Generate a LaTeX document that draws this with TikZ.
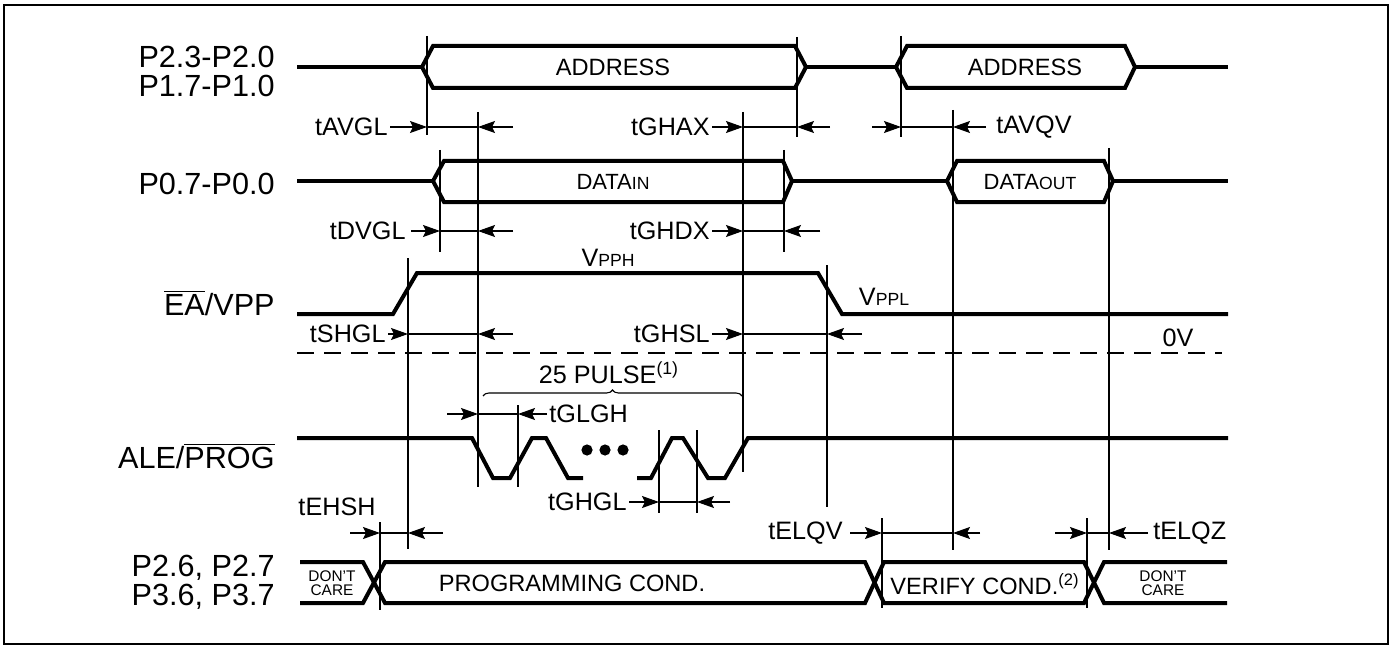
\documentclass[tikz,border=0pt]{standalone}
\usepackage{fontspec}
\setmainfont{Liberation Sans}
\usetikzlibrary{arrows.meta,decorations.pathreplacing}

% smaller letters inside a label (DATAin, VPPH ...)
\newcommand{\lo}[1]{{\fontsize{8.8}{9}\selectfont #1}}
% timing gap: y, left tail, left line, right line, right tail
\newcommand{\tgap}[5]{%
  \draw[dimarr] (#2,#1) -- (#3,#1);
  \draw[thinln] (#3,#1) -- (#4,#1);
  \draw[dimarr] (#5,#1) -- (#4,#1);}

\begin{document}
\begin{tikzpicture}[x=0.5pt,y=-0.5pt,
    sig/.style={line width=2pt,line join=miter},
    thinln/.style={line width=0.55pt},
    dimarr/.style={thinln,-{Stealth[length=8.5pt,width=6pt,inset=1.5pt]}},
    pin/.style={anchor=east,align=right,inner sep=0pt,
      font=\fontsize{15.3}{14.5}\selectfont},
    tlbl/.style={inner sep=0pt,font=\fontsize{12.6}{14}\selectfont},
    btxt/.style={inner sep=0pt,font=\fontsize{11.8}{14}\selectfont},
    dc/.style={align=center,inner sep=0pt,font=\fontsize{7.7}{7.2}\selectfont}]
  \useasboundingbox (0,0) rectangle (1398,647);
  % outer frame
  \draw[line width=1pt] (4,5) rectangle (1388,644);

  % pin names
  \node[pin] (pAddr) at (275,71) {P2.3-P2.0\\P1.7-P1.0};
  \node[pin] (pData) at (275,184) {P0.7-P0.0};
  \node[pin] (pVpp) at (275,303) {$\overline{\hbox{EA}}$/VPP};
  \node[pin] (pProg) at (275,456) {ALE/$\overline{\hbox{PROG}}$};
  \node[pin] (pCond) at (275,582) {P2.6, P2.7\\P3.6, P3.7};

  % address bus
  \draw[sig] (297,67) -- (422,67);
  \draw[sig] (422,67) -- (433,46) -- (795,46) -- (806,67) -- (795,88) -- (433,88) -- cycle;
  \draw[sig] (806,67) -- (896,67);
  \draw[sig] (896,67) -- (907,46) -- (1125,46) -- (1135,67) -- (1125,88) -- (907,88) -- cycle;
  \draw[sig] (1135,67) -- (1228,67);
  \node[btxt] (addrA) at (613,67) {ADDRESS};
  \node[btxt] (addrB) at (1025,67) {ADDRESS};

  % data bus
  \draw[sig] (297,181) -- (433,181);
  \draw[sig] (433,181) -- (444,161) -- (783,161) -- (792,181) -- (783,202) -- (444,202) -- cycle;
  \draw[sig] (792,181) -- (947,181);
  \draw[sig] (947,181) -- (957,161) -- (1104,161) -- (1113,181) -- (1104,202) -- (957,202) -- cycle;
  \draw[sig] (1113,181) -- (1228,181);
  \node[btxt] (dIn) at (613,182) {\fontsize{11}{12}\selectfont DATA\lo{IN}};
  \node[btxt] (dOut) at (1030,182) {\fontsize{11}{12}\selectfont DATA\lo{OUT}};

  % EA/VPP
  \draw[sig] (297,314) -- (393,314) -- (417,273) -- (818,273) -- (842,314) -- (1228,314);
  \node[tlbl] (vpph) at (608,258) {V\lo{PPH}};
  \node[tlbl] (vppl) at (884,297) {V\lo{PPL}};
  \node[tlbl] (zeroV) at (1178,338) {0V};
  \draw[thinln,dash pattern=on 8.5pt off 5pt] (297,353) -- (1222,353);

  % ALE/PROG pulses
  \draw[sig] (297,438) -- (472,438) -- (493,478) -- (510,478) -- (532,438) -- (546,438)
    -- (568,478) -- (583,478);
  \draw[sig] (637,478) -- (651,478) -- (672,438) -- (683,438) -- (708,478) -- (725,478)
    -- (748,438) -- (1228,438);
  \foreach \x in {587,605,623}
    \fill (\x,450) circle[radius=2.8pt];
  \draw[thinln,decorate,decoration={brace,amplitude=3pt}] (483,396) -- (742,396);
  \node[tlbl] (pulse) at (609,373) {25 PULSE\textsuperscript{(1)}};

  % port 2/3 condition bus
  \draw[sig] (300,562) -- (363,562) -- (385,603) -- (865,603) -- (884,562) -- (1084,562)
    -- (1104,603) -- (1227,603);
  \draw[sig] (300,603) -- (363,603) -- (385,562) -- (865,562) -- (884,603) -- (1084,603)
    -- (1104,562) -- (1227,562);
  \node[dc] (dcA) at (332,583) {DON'T\\CARE};
  \node[btxt] (prog) at (572,583) {PROGRAMMING COND.};
  \node[btxt] (verify) at (985,584) {VERIFY COND.\textsuperscript{(2)}};
  \node[dc] (dcB) at (1163,583) {DON'T\\CARE};

  % reference lines
  \foreach \x/\ya/\yb in {427/36/135, 797/37/137, 901/36/137, 478/112/487,
      743/112/472, 953/110/550, 440/150/252, 784/150/252, 1109/148/550,
      408/258/549, 827/265/507, 518/405/487, 659/430/513, 697/430/513,
      380/522/610, 882/518/608, 1087/518/608}
    \draw[thinln] (\x,\ya) -- (\x,\yb);

  % timing gaps
  \tgap{127}{390}{427}{478}{513}
  \node[tlbl,anchor=east] (tAVGL) at (388,127) {tAVGL};
  \tgap{127}{712}{743}{797}{830}
  \node[tlbl,anchor=east] (tGHAX) at (710,127) {tGHAX};
  \tgap{127}{872}{901}{953}{986}
  \node[tlbl,anchor=west] (tAVQV) at (996,127) {tAVQV};
  \tgap{231}{411}{440}{478}{513}
  \node[tlbl,anchor=east] (tDVGL) at (406,231) {tDVGL};
  \tgap{231}{712}{743}{784}{820}
  \node[tlbl,anchor=east] (tGHDX) at (710,231) {tGHDX};
  \tgap{334}{388}{408}{478}{513}
  \node[tlbl,anchor=east] (tSHGL) at (386,334) {tSHGL};
  \tgap{334}{712}{743}{827}{862}
  \node[tlbl,anchor=east] (tGHSL) at (710,334) {tGHSL};
  \tgap{414}{447}{478}{518}{547}
  \node[tlbl,anchor=west] (tGLGH) at (549,414) {tGLGH};
  \tgap{502}{629}{659}{697}{730}
  \node[tlbl,anchor=east] (tGHGL) at (627,502) {tGHGL};
  \tgap{533}{350}{380}{408}{443}
  \node[tlbl] (tEHSH) at (337,507) {tEHSH};
  \tgap{533}{850}{882}{953}{980}
  \node[tlbl,anchor=east] (tELQV) at (843,533) {tELQV};
  \tgap{533}{1055}{1087}{1109}{1148}
  \node[tlbl,anchor=west] (tELQZ) at (1153,533) {tELQZ};
\end{tikzpicture}
\end{document}
